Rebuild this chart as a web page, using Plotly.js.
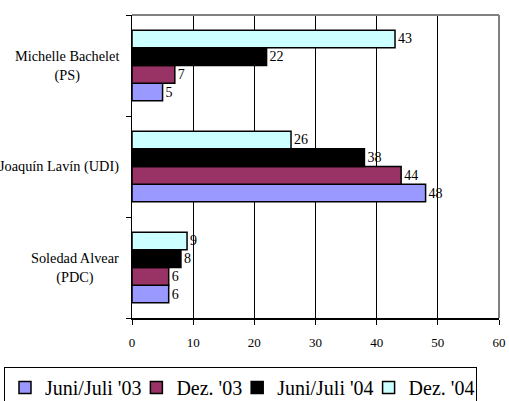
<!DOCTYPE html>
<html>
<head>
<meta charset="utf-8">
<script src="https://cdn.plot.ly/plotly-3.0.1.min.js"></script>
<style>html,body{margin:0;padding:0;background:#fff;}#chart{width:509px;height:401px;}</style>
</head>
<body>
<div id="chart"></div>
<script>
// Categories (bottom to top on the axis)
var categories = ['Soledad Alvear<br>(PDC)', 'Joaquín Lavín (UDI)', 'Michelle Bachelet<br>(PS)'];
var seriesNames = ["Juni/Juli '03", "Dez. '03", "Juni/Juli '04", "Dez. '04"];
var seriesColors = ['#9999FF', '#993366', '#000000', '#CCFFFF'];
var valuesJJ03 = [6, 48, 5];
var valuesDez03 = [6, 44, 7];
var valuesJJ04 = [8, 38, 22];
var valuesDez04 = [9, 26, 43];
var seriesValues = [valuesJJ03, valuesDez03, valuesJJ04, valuesDez04];
var xTicks = [0, 10, 20, 30, 40, 50, 60];

var serif = '"Liberation Serif", "Times New Roman", serif';
var legendFontSize = 20;

// measure legend text widths to tighten legend spacing
var ctx = document.createElement('canvas').getContext('2d');
ctx.font = legendFontSize + 'px "Liberation Serif", "Times New Roman", serif';
function textW(s) { return ctx.measureText(s).width; }

var traces = seriesValues.map(function (vals, i) {
  var w = textW(seriesNames[i]);
  return {
    type: 'bar',
    orientation: 'h',
    name: seriesNames[i],
    y: categories,
    x: vals,
    text: vals.map(String),
    textposition: 'outside',
    textfont: {family: serif, size: 14, color: '#000'},
    constraintext: 'none',
    cliponaxis: false,
    marker: {color: seriesColors[i], line: {color: '#000', width: 1.5}},
    legendwidth: (i === seriesNames.length - 1) ? w - 4 : w - 10,
    hoverinfo: 'x+name'
  };
});

var annotations = categories.map(function (c) {
  return {
    xref: 'paper', yref: 'y', x: 0, y: c, xshift: -11,
    xanchor: 'right', yanchor: 'middle', align: 'center',
    text: c, showarrow: false,
    font: {family: serif, size: 14.3, color: '#000'}
  };
});

var layout = {
  width: 509, height: 401,
  margin: {l: 132, r: 10, t: 15, b: 83, autoexpand: false},
  paper_bgcolor: '#fff', plot_bgcolor: '#fff',
  font: {family: serif, size: 12, color: '#000'},
  barmode: 'group',
  bargap: 0.3,
  bargroupgap: 0,
  showlegend: true,
  legend: {
    orientation: 'h', traceorder: 'normal',
    x: -0.3488, xanchor: 'left', y: -0.1617, yanchor: 'top',
    font: {family: serif, size: legendFontSize, color: '#000'},
    bordercolor: '#000', borderwidth: 1, bgcolor: '#fff',
    itemwidth: 30, tracegroupgap: 0
  },
  xaxis: {
    range: [0, 60], tickvals: xTicks, ticktext: xTicks.map(String),
    showgrid: true, gridcolor: '#000', gridwidth: 1,
    showline: true, linecolor: '#000', linewidth: 1.5,
    ticks: 'outside', ticklen: 5, tickcolor: '#000',
    ticklabelstandoff: 7,
    tickfont: {family: serif, size: 13, color: '#000'},
    zeroline: false, fixedrange: true
  },
  yaxis: {
    type: 'category', categoryorder: 'array', categoryarray: categories,
    range: [-0.5, 2.5],
    showticklabels: false, showgrid: false,
    showline: true, linecolor: '#000', linewidth: 1.5,
    ticks: 'outside', tickson: 'boundaries', ticklen: 5, tickcolor: '#000',
    zeroline: false, fixedrange: true
  },
  shapes: [
    {type: 'line', xref: 'paper', yref: 'paper', x0: 0, x1: 1, y0: 1, y1: 1, line: {color: '#808080', width: 2}},
    {type: 'line', xref: 'paper', yref: 'paper', x0: 1, x1: 1, y0: 0, y1: 1, line: {color: '#808080', width: 2}}
  ],
  annotations: annotations
};

Plotly.newPlot('chart', traces, layout, {displayModeBar: false, staticPlot: true});
</script>
</body>
</html>
